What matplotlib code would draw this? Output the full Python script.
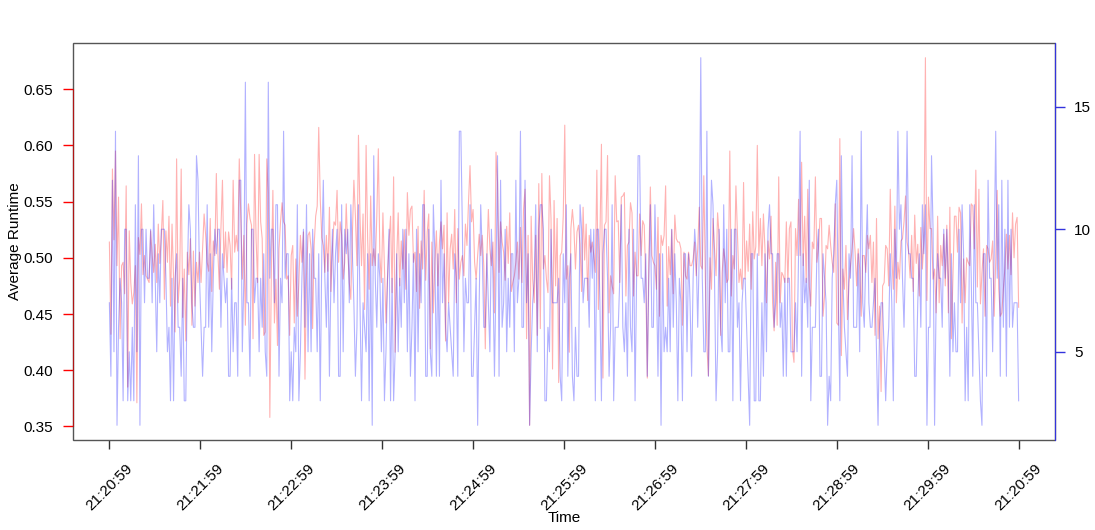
import numpy as np
import matplotlib.pyplot as plt
from matplotlib.patches import Rectangle

# tick labels as printed on the original chart (last one really says 21:20:59)
x_labels = ["21:20:59", "21:21:59", "21:22:59", "21:23:59", "21:24:59", "21:25:59",
            "21:26:59", "21:27:59", "21:28:59", "21:29:59", "21:20:59"]

# average runtime (left axis, red)
runtime = [
    .514, .432, .579, .516, .595, .493, .554, .428, .493, .496, .468, .564, .385, .524, .478, .459, .469, .493, .371, .518,
    .503, .548, .485, .502, .484, .481, .478, .524, .502, .487, .512, .478, .530, .495, .520,
    .551, .463, .524, .496, .537, .457, .530, .481, .434, .588, .460, .481, .579, .447, .490, .426, .505, .485, .517, .440,
    .506, .457, .496, .478, .505, .478, .508, .539, .520, .496, .488, .535, .470, .515, .502,
    .575, .505, .472, .526, .569, .491, .523, .487, .523, .511, .472, .569, .505, .520, .506, .588, .537, .481, .520, .440,
    .530, .548, .535, .529, .428, .592, .517, .478, .592, .532, .517, .431,
    # 21:22:30 ->
    .434, .588, .558, .358, .487, .560, .442, .481, .422, .508, .532, .549, .532, .529, .481, .484, .431, .502, .511, .442,
    .499, .448, .478, .520, .496, .523, .392, .484, .520, .523, .508, .437, .511, .537, .546, .616, .552, .518, .511, .487,
    .520, .488, .545, .470, .510, .532,
    .529, .560, .496, .532, .520, .481, .496, .548, .508, .478, .463, .520, .569, .537, .493, .609, .537, .493, .539, .454,
    .600, .517, .472, .555, .493, .508, .493, .537, .597, .502, .478, .540, .490, .442, .481, .514, .537, .469, .572, .416,
    .498, .540, .475, .515, .490, .525,
    .472, .558, .520, .543, .546, .496, .505, .470, .528, .455, .515, .490, .560, .480,
    # 21:24:10 ->
    .523, .539, .419, .514, .451, .496, .524, .475, .514, .532, .508, .529, .426, .540, .460, .508, .521, .490, .543, .460,
    .526, .481, .496, .502, .484, .530, .511, .549, .582, .532, .543, .496, .481, .502, .521, .502, .520, .493, .419, .499,
    .543, .508, .493, .514, .451, .594, .567, .487, .532, .514, .505, .480, .528, .495, .540, .470,
    .478, .484, .496, .514, .481, .527, .478, .543, .561, .428, .520, .351, .537, .481, .460, .520, .431, .566, .437, .575,
    .490, .502, .481, .469, .573, .535, .401, .551, .475, .535, .389, .502, .505, .537, .618, .481, .493, .416, .526, .543,
    .526, .490, .523, .529, .512, .470, .545, .498, .530, .462, .520, .505,
    # 21:26:00 ->
    .514, .502, .487, .578, .454, .517, .601, .393, .529, .532, .591, .451, .484, .475, .468, .573, .532, .533, .478, .554,
    .555, .558, .466, .511, .514, .549, .540, .466, .505, .484, .484, .539, .502, .533, .529, .481, .393, .496, .563, .502,
    .496, .493, .472, .536, .448, .520, .511, .520, .564, .457, .510, .485, .525, .468, .538,
    .517, .514, .514, .508, .440, .505, .484, .481, .505, .493, .493, .499, .514, .484, .508, .545, .493, .490, .573, .481,
    .422, .395, .500, .472, .535, .508, .484, .540, .520, .431, .487, .508, .496, .478, .481, .595, .466, .502, .490, .564,
    .520, .478, .490, .472, .567, .481, .515, .488, .530, .472, .541, .499, .510,
    # 21:27:50 ->
    .600, .502, .535, .493, .539, .508, .460, .515, .499, .537, .460, .435, .496, .440, .572, .460, .487, .484, .478, .532,
    .478, .526, .532, .419, .407, .526, .502, .552, .502, .585, .493, .537, .478, .561, .475, .457, .514, .508, .572, .496,
    .508, .535, .535, .448, .466, .511, .508, .529, .511, .496, .487, .548, .442, .440, .606, .413, .490, .472, .511, .445,
    .478, .493, .508, .526, .505, .475, .508, .490, .448, .502, .502, .487, .520, .508, .520, .478, .514, .431, .535, .428,
    .457, .381, .475, .478, .511, .508, .475, .561, .502, .472, .546, .460, .496, .481, .515, .517, .532, .555, .514, .505,
    .482, .520, .470, .538, .495, .512, .466, .527, .490, .515,
    # 21:29:55 ->
    .678, .462, .554, .526, .526, .481, .490, .451, .537, .460, .511, .493, .521, .475, .529, .451, .545, .428, .481, .537,
    .537, .505, .545, .540, .442, .499, .460, .500, .496, .493, .548, .546, .508, .578, .474, .561, .459, .487, .508, .448,
    .511, .508, .496, .499, .515, .448, .496, .560, .472, .448, .451, .472, .490, .521, .490, .520, .485, .540, .500, .530,
    .536, .456,
]

# number of runs (right axis, blue)
count = [
    7, 4, 12, 5, 14, 2, 6, 8, 7, 3, 10, 10, 3, 5, 3, 6, 3, 11, 5, 13, 2, 10, 10, 7, 10, 8, 8, 10, 7, 11,
    8, 5, 9, 7, 10,
    10, 10, 8, 5, 6, 3, 8, 3, 8, 9, 6, 6, 4, 8, 3, 3, 8, 11, 10, 7, 6, 6, 13, 12, 8, 6, 4, 6, 6, 11,
    6, 9, 5, 8, 10,
    9, 10, 10, 6, 9, 8, 7, 8, 4, 4, 8, 5, 7, 7, 4, 12, 12, 5, 8, 16, 7, 7, 4, 10, 10, 7, 8, 8, 5, 8,
    6, 9,
    # 21:22:30 ->
    5, 4, 16, 8, 10, 10, 7, 11, 11, 4, 8, 7, 14, 8, 9, 9, 3, 5, 3, 6, 5, 11, 3, 5, 8, 10, 6, 11, 5, 9,
    5, 10, 8, 8, 5, 9, 3, 9, 12, 8, 6, 9, 4, 8, 10, 7,
    9, 10, 4, 4, 11, 5, 10, 9, 10, 7, 11, 9, 7, 4, 6, 11, 7, 3, 7, 6, 5, 9, 3, 9, 2, 13, 8, 6, 9, 8,
    5, 8, 3, 5, 8, 10, 3, 8, 3, 5, 9, 5, 8, 6, 10, 7,
    10, 5, 9, 4, 6, 9, 3, 10, 5, 9, 7, 11, 11, 4,
    # 21:24:10 ->
    4, 10, 5, 4, 11, 9, 4, 9, 4, 12, 7, 9, 6, 5, 7, 6, 5, 4, 9, 8, 4, 14, 14, 10, 5, 8, 7, 7, 11, 4,
    4, 6, 8, 2, 7, 11, 9, 6, 6, 9, 7, 5, 10, 8, 4, 8, 13, 4, 12, 6, 7, 10, 5, 8, 6, 9,
    9, 5, 12, 7, 8, 14, 6, 6, 12, 7, 9, 2, 5, 7, 8, 11, 5, 10, 11, 11, 10, 3, 3, 6, 5, 10, 7, 7, 7, 7,
    8, 4, 3, 9, 7, 11, 4, 8, 9, 4, 3, 6, 4, 4, 11, 10, 7, 8, 8, 8, 6, 10,
    # 21:26:00 ->
    8, 10, 3, 10, 10, 7, 3, 9, 10, 10, 8, 4, 6, 11, 3, 6, 6, 6, 8, 11, 6, 5, 7, 4, 10, 6, 5, 10, 3, 8,
    13, 13, 8, 8, 7, 9, 4, 8, 11, 6, 6, 11, 8, 4, 9, 2, 9, 5, 6, 5, 8, 5, 10, 6, 9,
    7, 3, 8, 7, 3, 9, 9, 5, 9, 7, 4, 8, 10, 9, 6, 9, 17, 8, 5, 5, 14, 4, 8, 12, 11, 8, 3, 5, 10, 6,
    5, 11, 7, 10, 5, 5, 10, 3, 10, 10, 6, 7, 3, 7, 8, 8, 6, 4, 2, 9, 9, 3, 3,
    # 21:27:50 ->
    9, 3, 3, 7, 4, 9, 5, 10, 11, 9, 9, 6, 7, 9, 9, 6, 7, 4, 8, 4, 8, 8, 5, 5, 5, 7, 5, 9, 14, 4,
    9, 7, 8, 6, 12, 3, 6, 6, 6, 9, 10, 4, 4, 9, 8, 7, 2, 4, 3, 8, 9, 11, 12, 7, 3, 13, 8, 6, 5, 4,
    9, 8, 13, 6, 6, 6, 9, 5, 14, 7, 6, 9, 11, 7, 6, 6, 7, 8, 5, 2, 6, 7, 7, 5, 3, 5, 6, 9, 7, 3,
    10, 8, 14, 10, 11, 8, 6, 9, 14, 9, 9, 8, 8, 4, 4, 7, 9, 6, 11, 9,
    # 21:29:55 ->
    11, 2, 6, 6, 13, 10, 2, 7, 9, 8, 8, 6, 10, 8, 10, 8, 4, 9, 5, 7, 5, 5, 10, 7, 11, 9, 3, 6, 3, 11,
    8, 4, 11, 7, 7, 5, 3, 2, 9, 9, 4, 12, 8, 8, 5, 9, 14, 8, 11, 4, 12, 6, 10, 4, 12, 6, 10, 6, 7, 7,
    7, 3,
]

y_left_ticks = [0.35, 0.40, 0.45, 0.50, 0.55, 0.60, 0.65]
y_right_ticks = [5, 10, 15]

plt.rcParams['font.family'] = ['Liberation Sans', 'DejaVu Sans']
plt.rcParams['font.size'] = 11

# seconds since 21:20:59, ten minutes of samples
t_red = np.linspace(0, 600, len(runtime))
t_blue = np.linspace(0, 600, len(count))
tick_pos = np.arange(0, 601, 60)


def r_range(vals):
    # R style: data range plus 4% each side
    lo, hi = min(vals), max(vals)
    pad = 0.04 * (hi - lo)
    return lo - pad, hi + pad


fig = plt.figure(figsize=(10.95, 5.30), dpi=100)
ax = fig.add_axes([73 / 1095, 90 / 530, 982 / 1095, 397 / 530])
ax.plot(t_red, runtime, color=(1, 0, 0, 0.3), lw=0.8)
ax.set_xlim(r_range([0, 600]))
ax.set_ylim(r_range(runtime))

ax2 = ax.twinx()
ax2.plot(t_blue, count, color=(0, 0, 1, 0.3), lw=0.8)
ax2.set_ylim(r_range(count))

# plot frame
ax.add_patch(Rectangle((0, 0), 1, 1, transform=ax.transAxes, fill=False,
                       edgecolor='#555555', lw=1.0, clip_on=False, zorder=5))
for s in ['top', 'bottom', 'right']:
    ax.spines[s].set_visible(False)
for s in ['top', 'bottom', 'left']:
    ax2.spines[s].set_visible(False)
ax.spines['left'].set_bounds(0.35, 0.65)
ax.spines['left'].set_color('#b01515')
ax.spines['left'].set_zorder(6)
ax2.spines['right'].set_color('#3333dd')

ax.set_yticks(y_left_ticks)
ax.set_yticklabels([f"{v:.2f}" for v in y_left_ticks])
ax.tick_params(axis='y', color='red', labelcolor='black', length=7.2, width=1, pad=7)

ax2.set_yticks(y_right_ticks)
ax2.set_yticklabels([str(v) for v in y_right_ticks])
ax2.tick_params(axis='y', color='#3333dd', labelcolor='black', length=7.2, width=1, pad=6.5)

ax.set_xticks(tick_pos)
ax.set_xticklabels(x_labels, rotation=45, ha='center')
ax.tick_params(axis='x', color='#333333', length=6.5, width=1, pad=9)

fig.text(15 / 1095, 1 - 241 / 530, "Average Runtime", rotation=90, ha='center', va='center')
fig.text(564 / 1095, 1 - 518 / 530, "Time", ha='center', va='center')

fig.savefig("out.png", dpi=100)
